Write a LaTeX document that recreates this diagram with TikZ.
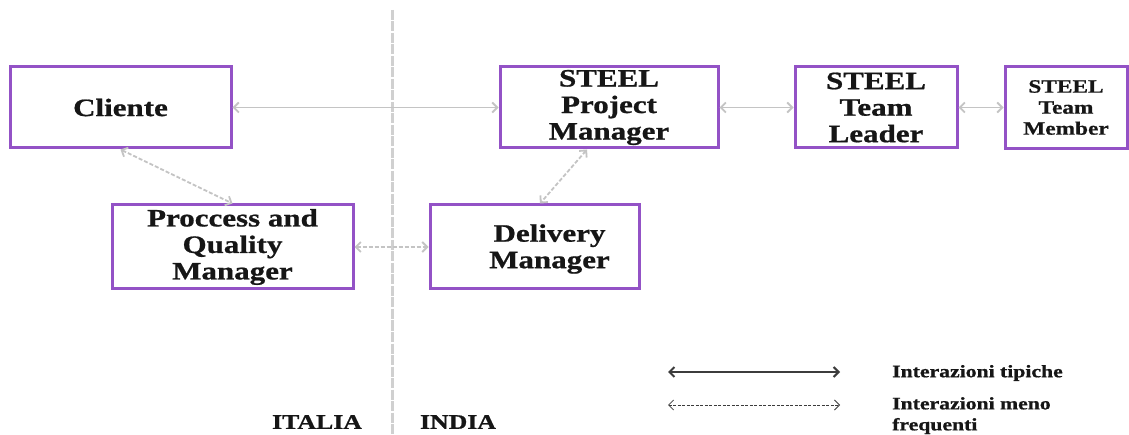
\documentclass[tikz,border=0pt]{standalone}
\usepackage{fontspec}
\setmainfont{Liberation Serif}[FakeStretch=1.24, BoldFeatures={FakeBold=0.8}]
\usetikzlibrary{arrows.meta}
\definecolor{boxpurple}{HTML}{9352C6}
\definecolor{linkgray}{HTML}{C4C4C4}
\definecolor{sepgray}{HTML}{D0D0D0}
\definecolor{inkdark}{HTML}{161616}
\definecolor{legdark}{HTML}{3C3C3C}
\begin{document}
\begin{tikzpicture}[x=1pt,y=-1pt,
  box/.style={draw=boxpurple, line width=3pt, fill=white, inner sep=0pt,
    align=center, text=inkdark, font=\fontsize{25}{26.5}\selectfont\bfseries},
  txt/.style={align=center, text=inkdark, font=\fontsize{25}{26.5}\selectfont\bfseries},
  small/.style={font=\fontsize{18.8}{21}\selectfont\bfseries},
  legtxt/.style={align=left, text=inkdark, inner sep=0pt, font=\fontsize{17.5}{21}\selectfont\bfseries},
  place/.style={text=inkdark, inner sep=0pt, font=\fontsize{20.8}{22}\selectfont\bfseries},
  tips/.style={{Straight Barb[length=5pt,width=10pt]}-{Straight Barb[length=5pt,width=10pt]}},
  link/.style={draw=linkgray, line width=1.8pt, tips},
  rare/.style={link, dash pattern=on 4pt off 2pt},
]
\useasboundingbox[fill=white] (0,0) rectangle (1129,435);

% separator between the two countries
\draw[sepgray, line width=3pt, dash pattern=on 10pt off 1.5pt] (392,10) -- (392,435);

% roles
\node[box, minimum width=221pt, minimum height=81pt] (cli) at (120.5,107.5) {Cliente};
\node[box, minimum width=241pt, minimum height=84pt] (pqm) at (232.5,247) {Proccess and\\Quality\\Manager};
\node[box, minimum width=218pt, minimum height=81pt] (pm) at (609,107.5) {STEEL\\Project\\Manager};
\node[box, minimum width=162pt, minimum height=81pt] (tl) at (876,107.5) {STEEL\\Team\\Leader};
\node[box, small, minimum width=122pt, minimum height=82pt] (tm) at (1066,107.5) {STEEL\\Team\\Member};
\node[box, minimum width=209pt, minimum height=84pt,
  label={[txt, xshift=15pt, yshift=-2pt]center:Delivery\\Manager}] (dm) at (534.5,247) {};

% typical interactions
\draw[link] (cli.east) -- (pm.west);
\draw[link] (pm.east) -- (tl.west);
\draw[link] (tl.east) -- (tm.west);

% less frequent interactions
\draw[rare] (cli.south) -- (pqm.north);
\draw[rare] ([xshift=-22pt]pm.south) -- ([xshift=5.5pt]dm.north);
\draw[rare] (pqm.east) -- (dm.west);

% country labels
\node[place] (it) at (317,422) {ITALIA};
\node[place] (in) at (458,422) {INDIA};

% legend
\coordinate (ls1) at (668,372);
\coordinate (le1) at (840,372);
\coordinate (ls2) at (668,405);
\coordinate (le2) at (840,405);
\draw[legdark, line width=2pt, tips] (ls1) -- (le1);
\draw[legdark, line width=0.8pt, tips, dash pattern=on 3pt off 1.5pt] (ls2) -- (le2);
\node[legtxt, anchor=west] (lt1) at (892,373) {Interazioni tipiche};
\node[legtxt, anchor=north west] (lt2) at (892,397) {Interazioni meno\\frequenti};
\end{tikzpicture}
\end{document}
